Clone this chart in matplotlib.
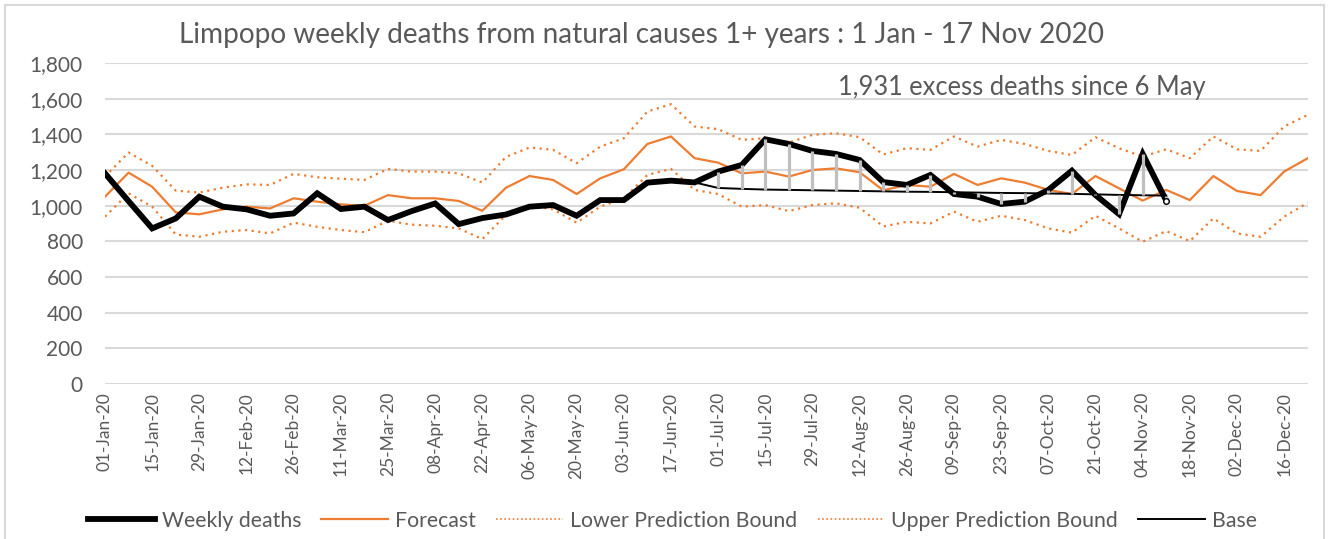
import numpy as np
import pandas as pd
import matplotlib
matplotlib.use('Agg')
import matplotlib.pyplot as plt
from matplotlib.lines import Line2D

plt.rcParams['font.family'] = ['Lato', 'DejaVu Sans']

# weekly series, week starting 01-Jan-2020
weeks = pd.date_range('2020-01-01', periods=52, freq='7D')

weekly_deaths = [1181, 1025, 872, 928, 1050, 994, 979, 943, 956, 1069,
                 981, 994, 919, 969, 1012, 896, 930, 950, 994, 1003,
                 943, 1031, 1031, 1129, 1140, 1130, 1191, 1228, 1372, 1346,
                 1307, 1290, 1256, 1132, 1116, 1172, 1065, 1050, 1009, 1022,
                 1088, 1196, 1059, 952, 1290, 1028]

forecast = [1050, 1185, 1106, 962, 951, 979, 994, 984, 1041, 1022,
            1007, 999, 1059, 1041, 1041, 1026, 971, 1100, 1166, 1144,
            1065, 1153, 1204, 1346, 1388, 1266, 1241, 1181, 1191, 1163,
            1200, 1209, 1187, 1086, 1116, 1106, 1178, 1116, 1153, 1129,
            1088, 1065, 1166, 1097, 1028, 1088, 1031, 1166, 1082, 1059,
            1191, 1266]

lower = [938, 1069, 994, 838, 825, 853, 863, 844, 904, 881,
         863, 851, 915, 893, 887, 872, 812, 947, 999, 979,
         904, 994, 1041, 1172, 1206, 1088, 1065, 994, 1003, 969,
         1003, 1013, 988, 883, 909, 900, 966, 909, 943, 919,
         872, 848, 943, 872, 797, 857, 801, 928, 844, 825,
         938, 1016]

upper = [1163, 1298, 1223, 1084, 1073, 1101, 1119, 1116, 1178, 1159,
         1151, 1144, 1206, 1191, 1191, 1181, 1129, 1273, 1326, 1313,
         1238, 1331, 1378, 1528, 1569, 1444, 1429, 1369, 1378, 1354,
         1397, 1406, 1384, 1287, 1322, 1313, 1388, 1331, 1369, 1346,
         1307, 1284, 1384, 1322, 1275, 1316, 1266, 1388, 1316, 1307,
         1444, 1509]

# base from week 25 (24-Jun) to week 45
base_start = 25
base = [1130, 1099, 1094, 1090, 1088, 1086, 1084, 1082, 1080, 1078,
        1077, 1075, 1073, 1071, 1070, 1068, 1066, 1063, 1060, 1058, 1056]

tick_labels = [d.strftime('%d-%b-%y') for d in weeks]

grey_txt = '#595959'
orange = '#ED7D31'

fig = plt.figure(figsize=(13.29, 5.39), dpi=100)
ax = fig.add_axes([0.079, 0.288, 0.905, 0.595])

x = np.arange(len(weeks))
xd = x[:len(weekly_deaths)]
xb = np.arange(base_start, base_start + len(base))

ax.plot(x, upper, color=orange, lw=1.6, ls=(0, (1, 2)), zorder=2)
ax.plot(x, lower, color=orange, lw=1.6, ls=(0, (1, 2)), zorder=2)
ax.plot(x, forecast, color=orange, lw=1.6, zorder=3)
ax.plot(xd, weekly_deaths, color='black', lw=4.2, solid_joinstyle='miter', zorder=4)
ax.plot(xb, base, color='black', lw=1.4, zorder=5)
dv = np.array(weekly_deaths)[xb]
ax.vlines(xb[1:], np.array(base)[1:], dv[1:], color='#BFBFBF', lw=2.3, zorder=6)
ax.plot([xd[-1]], [weekly_deaths[-1]], 'o', ms=4, mfc='white', mec='black', mew=1, zorder=7)

ax.set_xlim(0, len(weeks) - 1)
ax.set_ylim(0, 1800)
ax.set_yticks(np.arange(0, 1801, 200))
ax.set_yticklabels([f'{v:,}' for v in range(0, 1801, 200)])
ax.set_xticks(x[::2])
ax.set_xticklabels(tick_labels[::2], rotation=90)
ax.grid(axis='y', color='#D9D9D9', lw=1.5)
ax.set_axisbelow(True)
for s in ax.spines.values():
    s.set_visible(False)
ax.tick_params(axis='both', length=0, colors=grey_txt, labelsize=12.5)
ax.tick_params(axis='y', pad=16, labelsize=15)
ax.tick_params(axis='x', pad=6)

fig.text(0.483, 0.935, 'Limpopo weekly deaths from natural causes 1+ years : 1 Jan - 17 Nov 2020',
         ha='center', va='center', fontsize=20.2, color=grey_txt)
ax.text(0.762, 0.925, '1,931 excess deaths since 6 May', transform=ax.transAxes,
        ha='center', va='center', fontsize=18.4, color=grey_txt)

handles = [Line2D([], [], color='black', lw=4.2),
           Line2D([], [], color=orange, lw=1.6),
           Line2D([], [], color=orange, lw=1.2, ls=(0, (1, 1.5))),
           Line2D([], [], color=orange, lw=1.2, ls=(0, (1, 1.5))),
           Line2D([], [], color='black', lw=1.4)]
labels = ['Weekly deaths', 'Forecast', 'Lower Prediction Bound', 'Upper Prediction Bound', 'Base']
fig.legend(handles, labels, loc='center', bbox_to_anchor=(0.506, 0.034), ncol=5,
           frameon=False, fontsize=15.3, labelcolor=grey_txt, handlelength=3.15,
           handletextpad=0.33, columnspacing=0.95)

fig.add_artist(plt.Rectangle((0.004, -0.01), 0.992, 1.0, transform=fig.transFigure,
                             fill=False, edgecolor='#D9D9D9', lw=1.5))

fig.savefig('out.png', dpi=100)
